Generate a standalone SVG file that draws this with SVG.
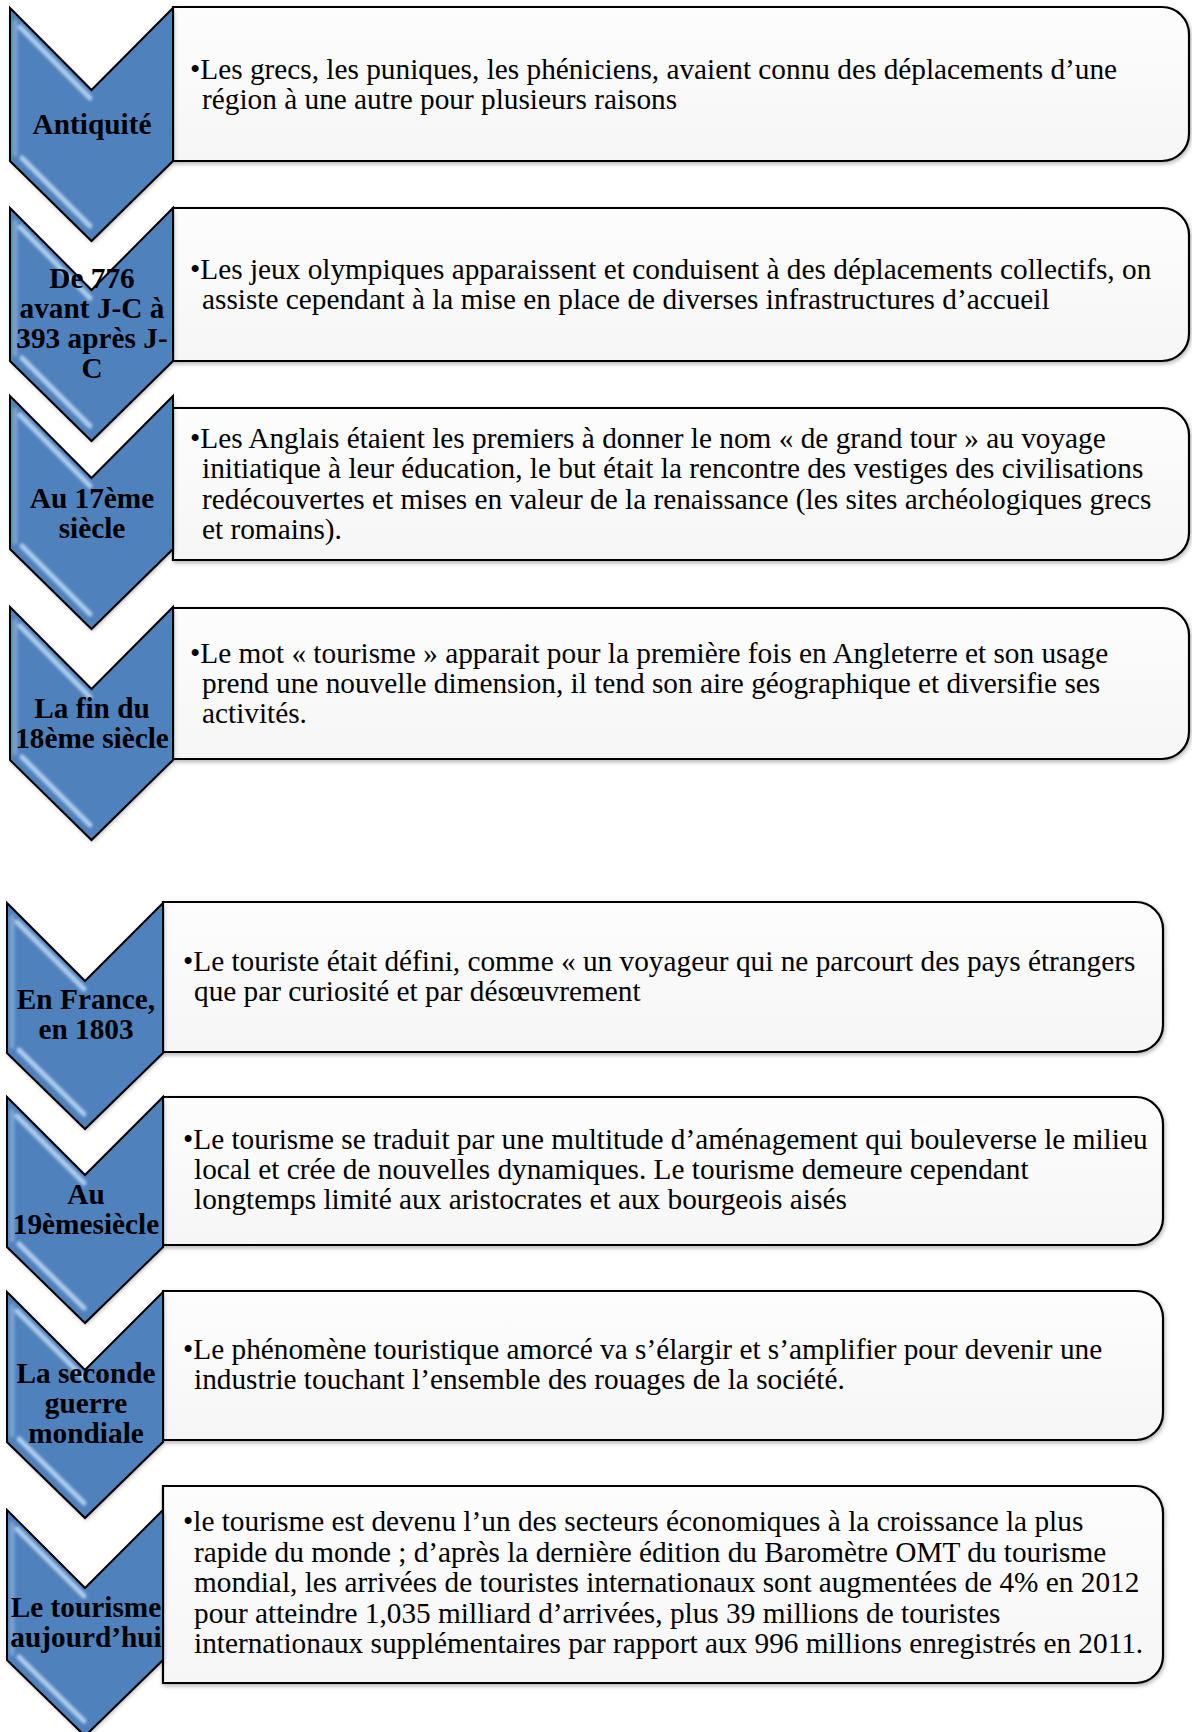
<svg xmlns="http://www.w3.org/2000/svg" xmlns:xlink="http://www.w3.org/1999/xlink" width="1192" height="1732" viewBox="0 0 1192 1732">
<style>
.body{font-family:"Liberation Serif","Times New Roman",serif;font-size:29.3px;fill:#000}
.lbl{font-family:"Liberation Serif","Times New Roman",serif;font-size:29.3px;font-weight:bold;fill:#000;text-anchor:middle}
.box{fill:url(#boxg);stroke:#000;stroke-width:2.2}
.chev{fill:#4f81bd}
.chevline{fill:none;stroke:#000;stroke-width:2;stroke-linejoin:miter}
.hl{fill:none;stroke:#c8e2fa;stroke-width:5;stroke-linecap:round;opacity:0.8}
</style>
<defs>
<linearGradient id="boxg" x1="0" y1="0" x2="0" y2="1">
<stop offset="0" stop-color="#fdfdfd"/>
<stop offset="1" stop-color="#f6f6f6"/>
</linearGradient>
<filter id="sh" x="-10%" y="-10%" width="125%" height="125%">
<feGaussianBlur in="SourceAlpha" stdDeviation="2"/>
<feOffset dx="1" dy="2" result="b"/>
<feFlood flood-color="#000" flood-opacity="0.3"/>
<feComposite in2="b" operator="in"/>
<feMerge><feMergeNode/><feMergeNode in="SourceGraphic"/></feMerge>
</filter>
<filter id="blur" x="-20%" y="-20%" width="140%" height="140%"><feGaussianBlur stdDeviation="1.6"/></filter>
<path id="chevA" d="M0,0 L81.5,82 L163,0 L163,153 L81.5,233 L0,153 Z"/>
<path id="chevB" d="M0,0 L78,78 L156,0 L156,150 L78,226 L0,150 Z"/>
<clipPath id="clipA"><path d="M0,0 L81.5,82 L163,0 L163,153 L81.5,233 L0,153 Z"/></clipPath>
<clipPath id="clipB"><path d="M0,0 L78,78 L156,0 L156,150 L78,226 L0,150 Z"/></clipPath>
<g id="hlA" filter="url(#blur)">
<path class="hl" d="M10,19 L80,90"/>
<path class="hl" d="M12,150 L80,218"/>
<path class="hl" d="M5,14 L5,146" style="opacity:0.35"/>
</g>
<g id="hlB" filter="url(#blur)">
<path class="hl" d="M10,19 L77,86"/>
<path class="hl" d="M12,147 L77,211"/>
<path class="hl" d="M5,14 L5,143" style="opacity:0.35"/>
</g>
<g id="chevronA">
<use href="#chevA" class="chev" filter="url(#sh)"/>
<g clip-path="url(#clipA)"><use href="#hlA"/></g>
<use href="#chevA" class="chevline"/>
</g>
<g id="chevronB">
<use href="#chevB" class="chev" filter="url(#sh)"/>
<g clip-path="url(#clipB)"><use href="#hlB"/></g>
<use href="#chevB" class="chevline"/>
</g>
</defs>
<rect width="1192" height="1732" fill="#fff"/>

<g id="row1">
<path class="box" filter="url(#sh)" d="M173,7 H1162 A27,27 0 0 1 1189,34 V134 A27,27 0 0 1 1162,161 H173 Z"/>
<use href="#chevronA" transform="translate(10,8)"/>
<text class="lbl" x="92" y="134">Antiquité</text>
<text class="body" x="190" y="79">•Les grecs, les puniques, les phéniciens, avaient connu des déplacements d’une</text>
<text class="body" x="202" y="109">région à une autre pour plusieurs raisons</text>
</g>

<g id="row2">
<path class="box" filter="url(#sh)" d="M173,208 H1162 A27,27 0 0 1 1189,235 V334 A27,27 0 0 1 1162,361 H173 Z"/>
<use href="#chevronA" transform="translate(10,208)"/>
<text class="lbl" x="92" y="288">De 776</text>
<text class="lbl" x="92" y="318">avant J-C à</text>
<text class="lbl" x="92" y="348">393 après J-</text>
<text class="lbl" x="92" y="378">C</text>
<text class="body" x="190" y="279">•Les jeux olympiques apparaissent et conduisent à des déplacements collectifs, on</text>
<text class="body" x="202" y="309">assiste cependant à la mise en place de diverses infrastructures d’accueil</text>
</g>

<g id="row3">
<path class="box" filter="url(#sh)" d="M173,408 H1162 A27,27 0 0 1 1189,435 V533 A27,27 0 0 1 1162,560 H173 Z"/>
<use href="#chevronA" transform="translate(10,396)"/>
<text class="lbl" x="92" y="508">Au 17ème</text>
<text class="lbl" x="92" y="538">siècle</text>
<text class="body" x="190" y="448">•Les Anglais étaient les premiers à donner le nom « de grand tour » au voyage</text>
<text class="body" x="202" y="478">initiatique à leur éducation, le but était la rencontre des vestiges des civilisations</text>
<text class="body" x="202" y="509">redécouvertes et mises en valeur de la renaissance (les sites archéologiques grecs</text>
<text class="body" x="202" y="539">et romains).</text>
</g>

<g id="row4">
<path class="box" filter="url(#sh)" d="M173,608 H1162 A27,27 0 0 1 1189,635 V732 A27,27 0 0 1 1162,759 H173 Z"/>
<use href="#chevronA" transform="translate(10,607)"/>
<text class="lbl" x="92" y="718">La fin du</text>
<text class="lbl" x="92" y="748">18ème siècle</text>
<text class="body" x="190" y="663">•Le mot « tourisme » apparait pour la première fois en Angleterre et son usage</text>
<text class="body" x="202" y="693">prend une nouvelle dimension, il tend son aire géographique et diversifie ses</text>
<text class="body" x="202" y="723">activités.</text>
</g>

<g id="row5">
<path class="box" filter="url(#sh)" d="M163,902 H1136 A27,27 0 0 1 1163,929 V1025 A27,27 0 0 1 1136,1052 H163 Z"/>
<use href="#chevronB" transform="translate(7,903)"/>
<text class="lbl" x="86" y="1009">En France,</text>
<text class="lbl" x="86" y="1039">en 1803</text>
<text class="body" x="183" y="971">•Le touriste était défini, comme « un voyageur qui ne parcourt des pays étrangers</text>
<text class="body" x="194" y="1001">que par curiosité et par désœuvrement</text>
</g>

<g id="row6">
<path class="box" filter="url(#sh)" d="M163,1097 H1136 A27,27 0 0 1 1163,1124 V1218 A27,27 0 0 1 1136,1245 H163 Z"/>
<use href="#chevronB" transform="translate(7,1097)"/>
<text class="lbl" x="86" y="1204">Au</text>
<text class="lbl" x="86" y="1234">19èmesiècle</text>
<text class="body" x="183" y="1149">•Le tourisme se traduit par une multitude d’aménagement qui bouleverse le milieu</text>
<text class="body" x="194" y="1179">local et crée de nouvelles dynamiques. Le tourisme demeure cependant</text>
<text class="body" x="194" y="1209">longtemps limité aux aristocrates et aux bourgeois aisés</text>
</g>

<g id="row7">
<path class="box" filter="url(#sh)" d="M163,1291 H1136 A27,27 0 0 1 1163,1318 V1413 A27,27 0 0 1 1136,1440 H163 Z"/>
<use href="#chevronB" transform="translate(7,1292)"/>
<text class="lbl" x="86" y="1383">La seconde</text>
<text class="lbl" x="86" y="1413">guerre</text>
<text class="lbl" x="86" y="1443">mondiale</text>
<text class="body" x="183" y="1359">•Le phénomène touristique amorcé va s’élargir et s’amplifier pour devenir une</text>
<text class="body" x="194" y="1389">industrie touchant l’ensemble des rouages de la société.</text>
</g>

<g id="row8">
<path class="box" filter="url(#sh)" d="M163,1486 H1136 A27,27 0 0 1 1163,1513 V1656 A27,27 0 0 1 1136,1683 H163 Z"/>
<use href="#chevronB" transform="translate(7,1510)"/>
<text class="lbl" x="86" y="1617">Le tourisme</text>
<text class="lbl" x="86" y="1647">aujourd’hui</text>
<text class="body" x="183" y="1531">•le tourisme est devenu l’un des secteurs économiques à la croissance la plus</text>
<text class="body" x="194" y="1562">rapide du monde ; d’après la dernière édition du Baromètre OMT du tourisme</text>
<text class="body" x="194" y="1592">mondial, les arrivées de touristes internationaux sont augmentées de 4% en 2012</text>
<text class="body" x="194" y="1623">pour atteindre 1,035 milliard d’arrivées, plus 39 millions de touristes</text>
<text class="body" x="194" y="1653">internationaux supplémentaires par rapport aux 996 millions enregistrés en 2011.</text>
</g>
</svg>
